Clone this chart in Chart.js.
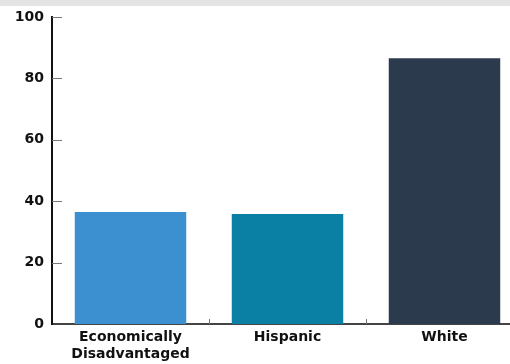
<!DOCTYPE html>
<html>
<head>
<meta charset="utf-8">
<script src="https://cdn.jsdelivr.net/npm/chart.js@4"></script>
<style>
  html, body { margin: 0; padding: 0; background: #fff; overflow: hidden; }
  #strip { position: absolute; left: 0; top: 0; width: 510px; height: 6px; background: #e4e4e4; }
  #wrap { position: absolute; left: 0; top: 0; width: 525px; height: 364px; }
</style>
</head>
<body>
<div id="strip"></div>
<div id="wrap"><canvas id="barChart" width="525" height="364"></canvas></div>
<script>
const groups = [["Economically", "Disadvantaged"], "Hispanic", "White"];
const rates = [36.5, 35.8, 86.6];
const barColors = ["#3d90cf", "#0b80a5", "#2c3a4d"];
const yTicks = [0, 20, 40, 60, 80, 100];

// short tick marks drawn inside the plot, off the axis lines
const innerTicks = {
    id: "innerTicks",
    afterDraw(chart) {
        const ctx = chart.ctx;
        const x = chart.scales.x, y = chart.scales.y;
        const left = chart.chartArea.left, bottom = chart.chartArea.bottom;
        ctx.save();
        ctx.strokeStyle = "#777";
        ctx.lineWidth = 1;
        yTicks.forEach(function(v){
            if (v === 0) return;
            const py = Math.round(y.getPixelForValue(v)) + 0.5;
            ctx.beginPath();
            ctx.moveTo(left, py);
            ctx.lineTo(left + 10, py);
            ctx.stroke();
        });
        for (let i = 1; i < groups.length; i++) {
            const px = Math.round((x.getPixelForValue(i - 1) + x.getPixelForValue(i)) / 2) + 0.5;
            ctx.beginPath();
            ctx.moveTo(px, bottom);
            ctx.lineTo(px, bottom - 5);
            ctx.stroke();
        }
        ctx.restore();
    }
};

new Chart("barChart", {
    type: "bar",
    data: {
        labels: groups,
        datasets: [{
            data: rates,
            backgroundColor: barColors,
            barPercentage: 0.71,
            categoryPercentage: 1.0
        }]
    },
    plugins: [innerTicks],
    options: {
        responsive: false,
        animation: false,
        layout: { padding: { top: 17, left: 0, right: 2, bottom: 0 } },
        plugins: { legend: { display: false }, tooltip: { enabled: false } },
        scales: {
            x: {
                grid: { display: false, drawTicks: false },
                border: { color: "#444", width: 2 },
                ticks: {
                    color: "#111",
                    padding: 5,
                    maxRotation: 0,
                    font: { family: "DejaVu Sans", size: 14, weight: "bold", lineHeight: 1.2 }
                },
                afterFit(scale) { scale.height = 40; }
            },
            y: {
                min: 0,
                max: 100,
                afterBuildTicks(scale) { scale.ticks = yTicks.map(v => ({ value: v })); },
                grid: { display: false, drawTicks: false },
                border: { color: "#111", width: 2 },
                ticks: {
                    color: "#111",
                    padding: 8,
                    font: { family: "DejaVu Sans", size: 14, weight: "bold" }
                },
                afterFit(scale) { scale.width = 52; }
            }
        }
    }
});
</script>
</body>
</html>
